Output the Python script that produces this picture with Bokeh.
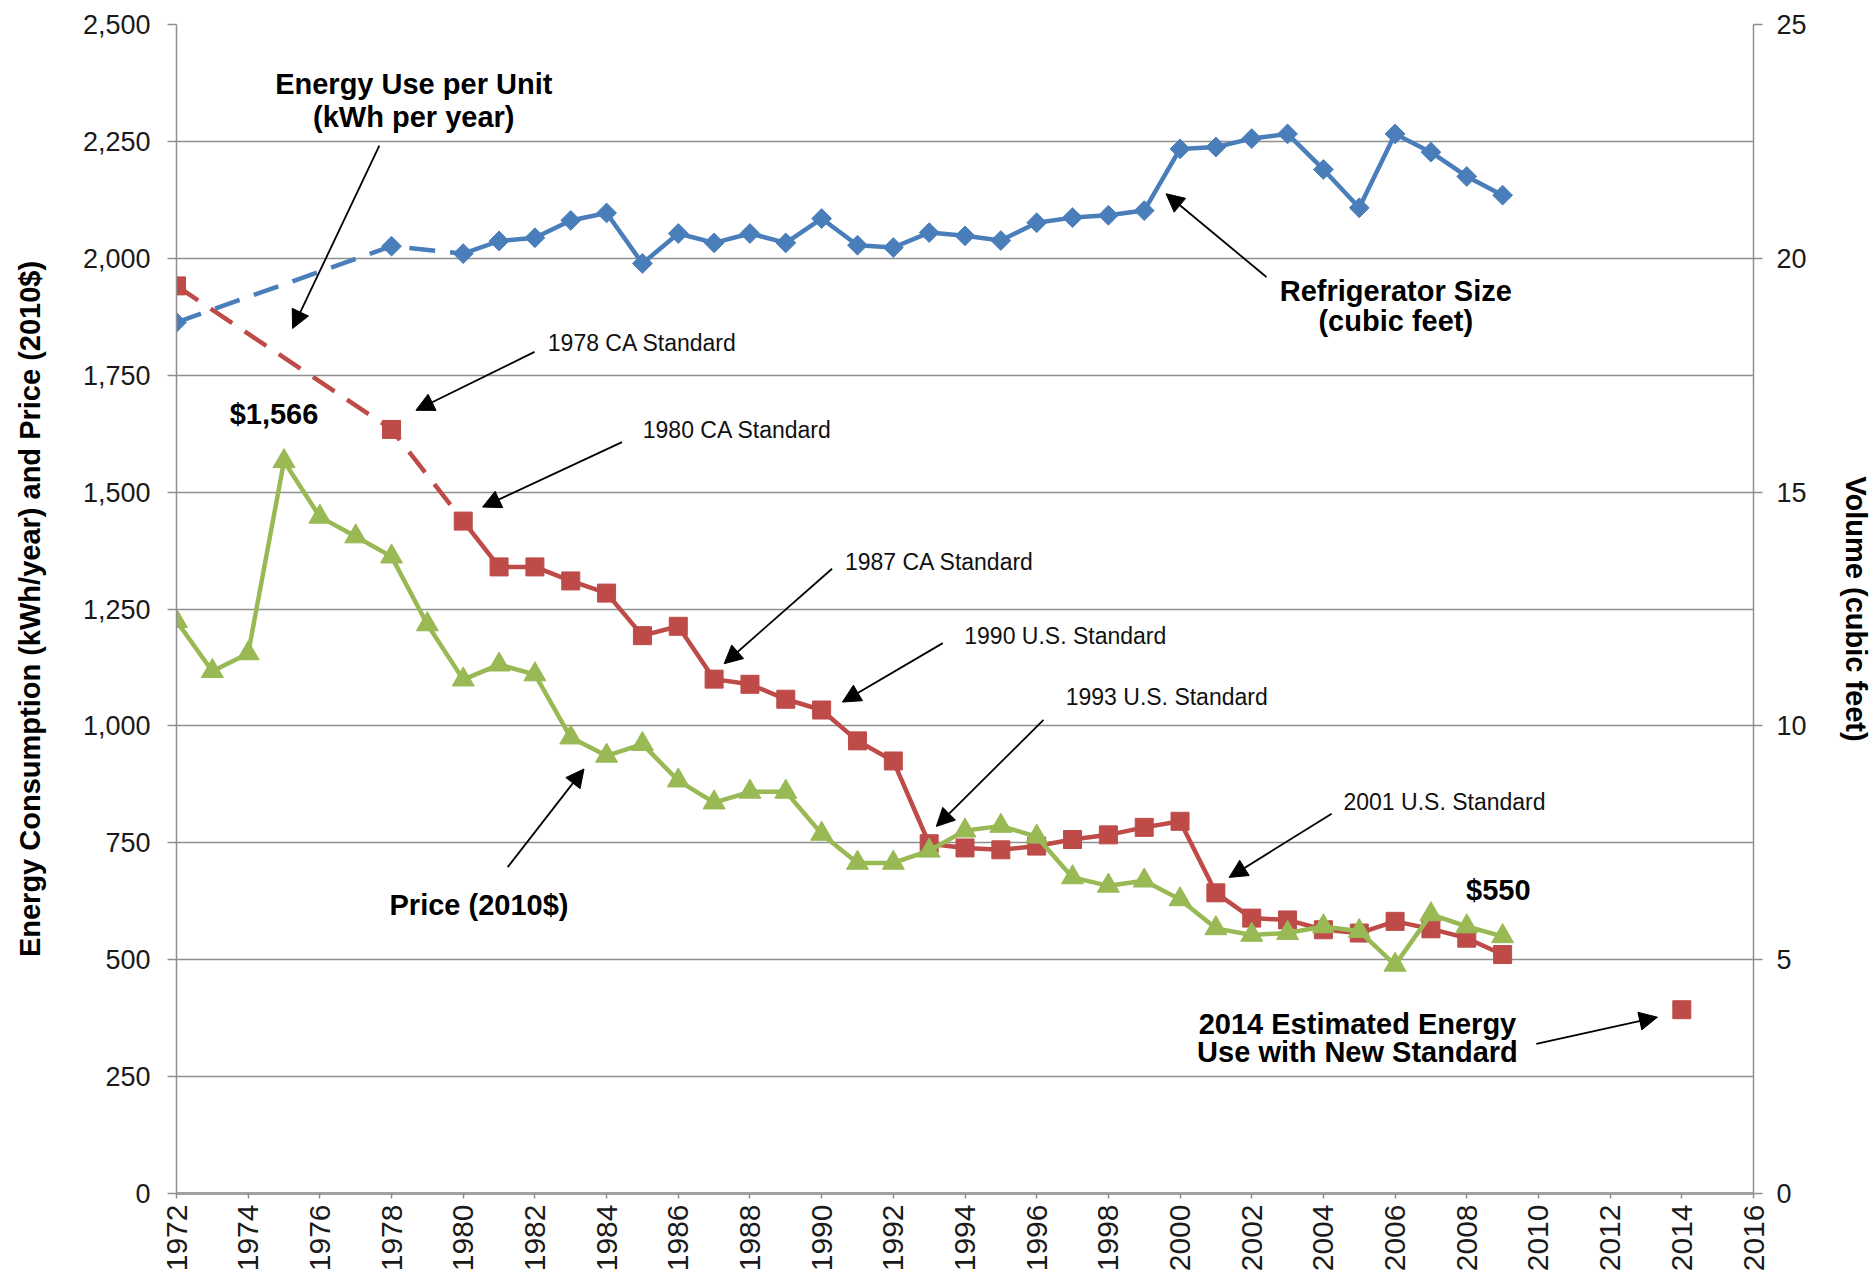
from math import pi
from bokeh.plotting import figure
from bokeh.models import (Range1d, LinearAxis, FixedTicker, NumeralTickFormatter,
                          Label, Arrow, NormalHead, ColumnDataSource)
from bokeh.embed import file_html
from bokeh.resources import INLINE

# ---------------- data ----------------
size_years = [1972, 1978, 1980, 1981, 1982, 1983, 1984, 1985, 1986, 1987, 1988, 1989,
              1990, 1991, 1992, 1993, 1994, 1995, 1996, 1997, 1998, 1999, 2000, 2001,
              2002, 2003, 2004, 2005, 2006, 2007, 2008, 2009]
size_cuft = [18.63, 20.26, 20.10, 20.37, 20.44, 20.81, 20.97, 19.89, 20.53, 20.33, 20.53, 20.33,
             20.85, 20.28, 20.23, 20.55, 20.48, 20.38, 20.76, 20.87, 20.92, 21.02, 22.34, 22.38,
             22.56, 22.66, 21.90, 21.08, 22.66, 22.27, 21.75, 21.35]

energy_years = [1972, 1978, 1980, 1981, 1982, 1983, 1984, 1985, 1986, 1987, 1988, 1989,
                1990, 1991, 1992, 1993, 1994, 1995, 1996, 1997, 1998, 1999, 2000, 2001,
                2002, 2003, 2004, 2005, 2006, 2007, 2008, 2009]
energy_kwh = [1941, 1634, 1438, 1340, 1340, 1310, 1284, 1193, 1213, 1100, 1089, 1057,
              1034, 968, 925, 748, 739, 735, 743, 757, 767, 783, 796, 643,
              589, 585, 564, 557, 582, 566, 546, 511]

estimate_years = [2014]
estimate_kwh = [393]

price_years = list(range(1972, 2010))
price_usd = [1224, 1117, 1155, 1566, 1447, 1405, 1362, 1217, 1099, 1131,
             1110, 975, 936, 961, 883, 836, 859, 859, 769, 707,
             707, 733, 776, 786, 763, 676, 658, 669, 629, 567,
             553, 557, 571, 561, 489, 597, 571, 550]

x_ticks = list(range(1972, 2017, 2))
left_ticks = list(range(0, 2501, 250))
right_ticks = [0, 5, 10, 15, 20, 25]

# ---------------- styling ----------------
BLUE = "#4A7EBB"
RED = "#BE4B48"
GREEN = "#98B954"
GRID = "#8f8f8f"
TICK_FONT = "Liberation Sans"
BOLD_FONT = "Liberation Sans"
STD_FONT = "Liberation Sans"

p = figure(width=1874, height=1275, output_backend="svg", toolbar_location=None,
           title=None,
           x_range=Range1d(1972, 2016), y_range=Range1d(0, 2500),
           min_border_left=176, min_border_right=117, min_border_top=24,
           min_border_bottom=82)
p.extra_y_ranges = {"vol": Range1d(0, 25)}
p.outline_line_color = None
p.background_fill_color = "white"
p.border_fill_color = "white"

p.xgrid.visible = False
p.ygrid.ticker = FixedTicker(ticks=left_ticks)
p.ygrid.grid_line_color = GRID
p.ygrid.grid_line_width = 1.6

# x axis
xa = p.xaxis[0]
xa.ticker = FixedTicker(ticks=x_ticks)
xa.major_label_orientation = pi / 2
xa.major_label_text_font = TICK_FONT
xa.major_label_text_font_size = "30px"
xa.major_label_text_color = "#1a1a1a"
xa.axis_line_color = "#a0a0a0"
xa.axis_line_width = 3
xa.major_tick_line_color = "#8f8f8f"
xa.major_tick_line_width = 1.5
xa.major_tick_out = 5
xa.major_tick_in = 0
xa.minor_tick_line_color = None
xa.major_label_standoff = 6

# left axis
ya = p.yaxis[0]
ya.ticker = FixedTicker(ticks=left_ticks)
ya.formatter = NumeralTickFormatter(format="0,0")
ya.major_label_text_font = TICK_FONT
ya.major_label_text_font_size = "27px"
ya.major_label_text_color = "#1a1a1a"
ya.axis_line_color = GRID
ya.axis_line_width = 1.5
ya.major_tick_line_color = GRID
ya.major_tick_line_width = 1.5
ya.major_tick_out = 9
ya.major_tick_in = 0
ya.minor_tick_line_color = None
ya.major_label_standoff = 17
ya.axis_label = "Energy Consumption (kWh/year) and Price (2010$)"
ya.axis_label_text_font = BOLD_FONT
ya.axis_label_text_font_style = "bold"
ya.axis_label_text_font_size = "29px"
ya.axis_label_text_color = "#000000"
ya.axis_label_standoff = 34

# right axis
ra = LinearAxis(y_range_name="vol")
ra.ticker = FixedTicker(ticks=right_ticks)
ra.major_label_text_font = TICK_FONT
ra.major_label_text_font_size = "27px"
ra.major_label_text_color = "#1a1a1a"
ra.axis_line_color = GRID
ra.axis_line_width = 1.5
ra.major_tick_line_color = GRID
ra.major_tick_line_width = 1.5
ra.major_tick_out = 9
ra.major_tick_in = 0
ra.minor_tick_line_color = None
ra.major_label_standoff = 14
ra.axis_label = "Volume (cubic feet)"
ra.axis_label_text_font = BOLD_FONT
ra.axis_label_text_font_style = "bold"
ra.axis_label_text_font_size = "29px"
ra.axis_label_text_color = "#000000"
ra.axis_label_standoff = 30
p.add_layout(ra, "right")

DASH = "26 15"
LW = 4.5

# ---- energy (red) ----
e_dash = ColumnDataSource(dict(x=[x for x in energy_years if x <= 1980],
                               y=[y for x, y in zip(energy_years, energy_kwh) if x <= 1980]))
e_solid = ColumnDataSource(dict(x=[x for x in energy_years if x >= 1980],
                                y=[y for x, y in zip(energy_years, energy_kwh) if x >= 1980]))
p.line("x", "y", source=e_dash, line_color=RED, line_width=LW, line_dash=DASH)
p.line("x", "y", source=e_solid, line_color=RED, line_width=LW, line_join="round")
p.scatter(energy_years, energy_kwh, marker="square", size=18, fill_color=RED, line_color=RED)
p.scatter(estimate_years, estimate_kwh, marker="square", size=18, fill_color=RED, line_color=RED)

# ---- price (green) ----
p.line(price_years, price_usd, line_color=GREEN, line_width=LW, line_join="round")
p.scatter(price_years, price_usd, marker="triangle", size=22, fill_color=GREEN, line_color=GREEN)

# ---- size (blue, right axis) ----
s_dash = ColumnDataSource(dict(x=[x for x in size_years if x <= 1980],
                               y=[y for x, y in zip(size_years, size_cuft) if x <= 1980]))
s_solid = ColumnDataSource(dict(x=[x for x in size_years if x >= 1980],
                                y=[y for x, y in zip(size_years, size_cuft) if x >= 1980]))
p.line("x", "y", source=s_dash, line_color=BLUE, line_width=LW, line_dash=DASH, y_range_name="vol")
p.line("x", "y", source=s_solid, line_color=BLUE, line_width=LW, line_join="round", y_range_name="vol")
p.scatter(size_years, size_cuft, marker="square", angle=pi / 4, size=14,
          fill_color=BLUE, line_color=BLUE, y_range_name="vol")

# ---------------- annotations ----------------
bold_labels = [
    (1978.62, 2372, "Energy Use per Unit"),
    (1978.62, 2303, "(kWh per year)"),
    (1974.72, 1667, "$1,566"),
    (1980.44, 617, "Price (2010$)"),
    (2006.02, 1930, "Refrigerator Size"),
    (2006.02, 1866, "(cubic feet)"),
    (2008.88, 648, "$550"),
    (2004.95, 363, "2014 Estimated Energy"),
    (2004.95, 302, "Use with New Standard"),
]
for x, y, t in bold_labels:
    p.add_layout(Label(x=x, y=y, text=t, text_font=BOLD_FONT, text_font_style="bold",
                       text_font_size="29px", text_align="center", text_baseline="middle",
                       text_color="#000000"))

std_labels = [
    (1982.36, 1818, "1978 CA Standard"),
    (1985.01, 1632, "1980 CA Standard"),
    (1990.65, 1350, "1987 CA Standard"),
    (1993.98, 1193, "1990 U.S. Standard"),
    (1996.81, 1061, "1993 U.S. Standard"),
    (2004.56, 837, "2001 U.S. Standard"),
]
for x, y, t in std_labels:
    p.add_layout(Label(x=x, y=y, text=t, text_font=STD_FONT, text_font_size="23px",
                       text_align="left", text_baseline="middle", text_color="#111111"))

arrows = [
    (1977.66, 2241, 1975.24, 1850),
    (1981.99, 1800, 1978.68, 1675),
    (1984.43, 1607, 1980.54, 1468),
    (1990.29, 1336, 1987.28, 1133),
    (1993.38, 1177, 1990.58, 1051),
    (1996.19, 1013, 1993.20, 785),
    (2004.23, 812, 2001.37, 676),
    (2009.94, 320, 2013.32, 377),
    (1981.24, 698, 1983.37, 908),
    (2002.41, 1960, 1999.61, 2138),
]
for xs, ys, xe, ye in arrows:
    p.add_layout(Arrow(x_start=xs, y_start=ys, x_end=xe, y_end=ye,
                       line_color="black", line_width=1.8,
                       end=NormalHead(size=18, fill_color="black", line_color="black")))

open("out.html", "w").write(file_html(p, INLINE))
